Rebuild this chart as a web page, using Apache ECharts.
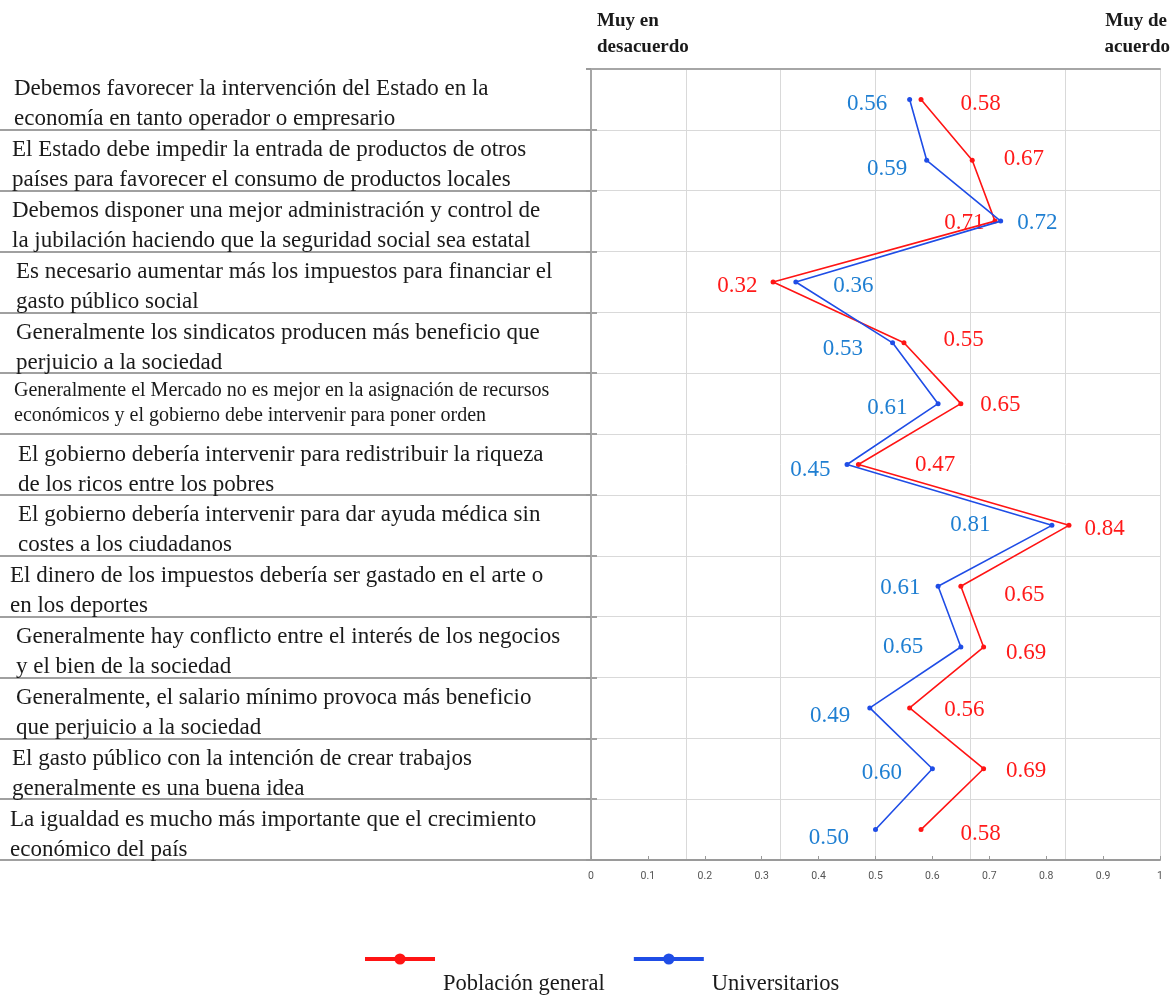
<!DOCTYPE html>
<html>
<head>
<meta charset="utf-8">
<script src="https://cdn.jsdelivr.net/npm/echarts@6/dist/echarts.min.js"></script>
<style>
  html, body { margin: 0; padding: 0; background: #fff; }
  #chart { width: 1175px; height: 997px; }
</style>
</head>
<body>
<div id="chart"></div>
<script>
// afirmaciones (de arriba abajo)
const statements = [
  'Debemos favorecer la intervención del Estado en la\neconomía en tanto operador o empresario',
  'El Estado debe impedir la entrada de productos de otros\npaíses para favorecer el consumo de productos locales',
  'Debemos disponer una mejor administración y control de\nla jubilación haciendo que la seguridad social sea estatal',
  'Es necesario aumentar más los impuestos para financiar el\ngasto público social',
  'Generalmente los sindicatos producen más beneficio que\nperjuicio a la sociedad',
  'Generalmente el Mercado no es mejor en la asignación de recursos\neconómicos y el gobierno debe intervenir para poner orden',
  'El gobierno debería intervenir para redistribuir la riqueza\nde los ricos entre los pobres',
  'El gobierno debería intervenir para dar ayuda médica sin\ncostes a los ciudadanos',
  'El dinero de los impuestos debería ser gastado en el arte o\nen los deportes',
  'Generalmente hay conflicto entre el interés de los negocios\ny el bien de la sociedad',
  'Generalmente, el salario mínimo provoca más beneficio\nque perjuicio a la sociedad',
  'El gasto público con la intención de crear trabajos\ngeneralmente es una buena idea',
  'La igualdad es mucho más importante que el crecimiento\neconómico del país'
];
const poblacionGeneral = [0.58, 0.67, 0.71, 0.32, 0.55, 0.65, 0.47, 0.84, 0.65, 0.69, 0.56, 0.69, 0.58];
const universitarios   = [0.56, 0.59, 0.72, 0.36, 0.53, 0.61, 0.45, 0.81, 0.61, 0.65, 0.49, 0.60, 0.50];
const seriesNames = ['Población general', 'Universitarios'];

// ajustes de posicion de las etiquetas (px, negativo = a la izquierda)
const redGap  = [37, 29, -8, -13, 37, 17, 54, 13, 41, 20, 32, 20, 37];
const redDy   = [5, -1, 2, 4, -3, 1, 0, 4, 9, 6, 2, 2, 4];
const blueGap = [-20, -17, 14, 35, -27, -28, -14, -59, -15, -35, -17, -28, -24];
const blueDy  = [5, 9, 2, 4, 6, 4, 5, 0, 2, 0, 8, 4, 8];
const labelIndent = [4, 2, 2, 6, 6, 4, 8, 8, 0, 6, 6, 2, 0];

const SERIF = '"Liberation Serif", "DejaVu Serif", serif';

function points(vals, gaps, dys, color) {
  return vals.map((v, i) => ({
    value: [v, i],
    label: {
      position: gaps[i] >= 0 ? 'right' : 'left',
      distance: Math.abs(gaps[i]),
      offset: [0, dys[i]],
      color: color
    }
  }));
}

const chart = echarts.init(document.getElementById('chart'));

const headStyle = { fontFamily: SERIF, fontWeight: 'bold', fontSize: 19, color: '#1a1a1a' };

chart.setOption({
  animation: false,
  backgroundColor: '#fff',
  title: [
    { text: 'Muy en', left: 592, top: 7, textStyle: headStyle },
    { text: 'desacuerdo', left: 592, top: 33, textStyle: headStyle },
    { text: 'Muy de', right: 3, top: 7, textStyle: headStyle },
    { text: 'acuerdo', right: 0, top: 33, textStyle: headStyle }
  ],
  legend: {
    data: seriesNames,
    left: 363,
    top: 909,
    padding: 0,
    itemWidth: 70,
    itemHeight: 14,
    itemGap: 27,
    lineStyle: { width: 4 },
    formatter: n => '\n' + n,
    textStyle: { fontFamily: SERIF, fontSize: 22.5, color: '#1a1a1a', lineHeight: 50, padding: [0, 0, 0, 3] }
  },
  grid: [
    { left: 591, right: 15, top: 69, bottom: 137, containLabel: false, outerBoundsMode: 'none' },
    { left: 0, width: 597, top: 69, bottom: 137, containLabel: false, outerBoundsMode: 'none' }
  ],
  xAxis: [
    {
      type: 'value', gridIndex: 0, min: 0, max: 1, interval: 0.1,
      axisLine: { show: true, lineStyle: { color: '#9a9a9a', width: 2 } },
      axisTick: { show: true, inside: true, length: 4, lineStyle: { color: '#9a9a9a' } },
      splitLine: { show: false },
      axisLabel: { fontFamily: 'Roboto, sans-serif', fontSize: 10.5, color: '#555', margin: 11 }
    },
    {
      type: 'value', gridIndex: 0, position: 'top', min: 0, max: 1, interval: 1 / 6,
      axisLine: { show: true, lineStyle: { color: '#a6a6a6', width: 2 } },
      axisTick: { show: false },
      axisLabel: { show: false },
      splitLine: { show: true, lineStyle: { color: '#d9d9d9', width: 1 } }
    },
    {
      type: 'value', gridIndex: 1, show: false
    }
  ],
  yAxis: [
    {
      type: 'category', gridIndex: 0, inverse: true,
      data: statements.map((s, i) => ({
        value: s,
        textStyle: { align: 'left', padding: [0, 0, 0, labelIndent[i]] }
      })),
      axisLine: { show: true, lineStyle: { color: '#9a9a9a', width: 2 } },
      axisTick: { show: true, length: 5, lineStyle: { color: '#9a9a9a', width: 2 } },
      splitLine: { show: true, lineStyle: { color: '#d9d9d9', width: 1 } },
      axisLabel: {
        interval: 0,
        align: 'left',
        margin: 581,
        color: '#1a1a1a',
        formatter: (v, i) => i === 5 ? '{s|' + v + '}' : '{gap|}\n{b|' + v + '}',
        rich: {
          gap: { fontSize: 1, lineHeight: 10 },
          b: { fontFamily: SERIF, fontSize: 23, lineHeight: 30, color: '#1a1a1a', align: 'left' },
          s: { fontFamily: SERIF, fontSize: 20, lineHeight: 25, color: '#1a1a1a', align: 'left' }
        }
      }
    },
    {
      type: 'category', gridIndex: 1, inverse: true,
      data: statements,
      axisLine: { show: false },
      axisTick: { show: false },
      axisLabel: { show: false },
      splitLine: {
        show: true,
        interval: (idx) => idx > 0,
        lineStyle: { color: '#a0a0a0', width: 2 }
      }
    },
    {
      // borde derecho del area de trazado
      type: 'category', gridIndex: 0, position: 'right', inverse: true,
      data: statements,
      axisLine: { show: true, lineStyle: { color: '#a6a6a6', width: 2 } },
      axisTick: { show: false },
      axisLabel: { show: false },
      splitLine: { show: false }
    }
  ],
  series: [
    {
      name: seriesNames[0],
      type: 'line',
      xAxisIndex: 0, yAxisIndex: 0,
      data: points(poblacionGeneral, redGap, redDy, '#ff1a1a'),
      color: '#ff1414',
      lineStyle: { width: 1.6, color: '#ff1414' },
      symbol: 'circle', symbolSize: 5,
      label: {
        show: true,
        fontFamily: SERIF, fontSize: 23,
        formatter: p => p.value[0].toFixed(2)
      },
      z: 3
    },
    {
      name: seriesNames[1],
      type: 'line',
      xAxisIndex: 0, yAxisIndex: 0,
      data: points(universitarios, blueGap, blueDy, '#1f7fd2'),
      color: '#1f4de6',
      lineStyle: { width: 1.6, color: '#1f4de6' },
      symbol: 'circle', symbolSize: 5,
      label: {
        show: true,
        fontFamily: SERIF, fontSize: 23,
        formatter: p => p.value[0].toFixed(2)
      },
      z: 4
    }
  ]
});
</script>
</body>
</html>
